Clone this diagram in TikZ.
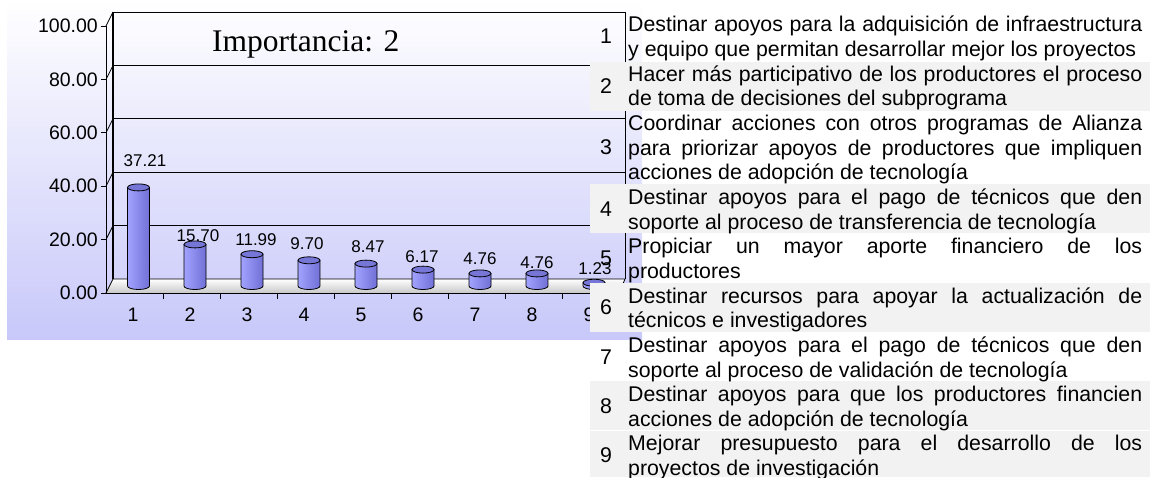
\documentclass[tikz,border=0pt]{standalone}
\usepackage{fontspec}
\setmainfont{Liberation Sans}
\newfontfamily\titlefont{Liberation Serif}
\usepackage{xcolor}
\definecolor{chartbg}{RGB}{200,200,250}
\definecolor{barlight}{RGB}{162,162,255}
\definecolor{bardark}{RGB}{112,112,214}
\definecolor{bartop}{RGB}{118,118,214}
\definecolor{floorgrey}{RGB}{200,200,200}
\definecolor{rowgrey}{RGB}{242,242,242}
\tolerance=10000
\hbadness=10000
\hyphenpenalty=10000
\tikzset{
ylab/.style={anchor=east,inner sep=0pt,font=\fontsize{19.5}{22}\selectfont},
xlab/.style={inner sep=0pt,font=\fontsize{19.5}{22}\selectfont},
vlab/.style={inner sep=0pt,font=\fontsize{17}{20}\selectfont},
num/.style={inner sep=0pt,font=\fontsize{21.3}{24.65}\selectfont},
item/.style={anchor=north west,inner sep=0pt,text width=514pt,align=justify,font=\fontsize{21.3}{24.65}\selectfont},
grid/.style={draw=black,line width=0.8pt},
pics/barcyl/.style={code={
\draw[line width=0.8pt,left color=barlight,right color=bardark] (-11,0) arc[start angle=180,end angle=0,x radius=11,y radius=3.5] -- (11,-#1) -- (-11,-#1) -- cycle;
\draw[line width=0.8pt,fill=bartop] (0,-#1) ellipse[x radius=11,y radius=3.5];
}}
}

\begin{document}
\begin{tikzpicture}[x=1pt,y=-1pt]
\useasboundingbox (0,0) rectangle (1150,477);
\shade[top color=white,bottom color=chartbg] (7,0) rectangle (642,339);
\draw[grid] (113,12) -- (625,12);
\draw[grid] (113,65.4) -- (625,65.4);
\draw[grid] (113,118.8) -- (625,118.8);
\draw[grid] (113,172.2) -- (625,172.2);
\draw[grid] (113,225.6) -- (625,225.6);
\draw[grid,line width=1.4pt] (113,12) -- (113,279);
\draw[grid] (625,12) -- (625,279);
\draw[grid] (106,26) -- (113,12);
\draw[grid] (106,79.4) -- (113,65.4);
\draw[grid] (106,132.8) -- (113,118.8);
\draw[grid] (106,186.2) -- (113,172.2);
\draw[grid] (106,239.6) -- (113,225.6);
\shade[top color=white,bottom color=floorgrey] (106,293) -- (113,279) -- (625,279) -- (619,293) -- cycle;
\draw[grid] (106,293) -- (113,279) -- (625,279) -- (619,293);
\pic at (138.5,286) {barcyl=98.6};
\pic at (195,286) {barcyl=41.6};
\pic at (252,286) {barcyl=31.8};
\pic at (309,286) {barcyl=25.7};
\pic at (366,286) {barcyl=22.4};
\pic at (423,286) {barcyl=16.4};
\pic at (480,286) {barcyl=12.6};
\pic at (537,286) {barcyl=12.6};
\pic at (594,286) {barcyl=3.3};
\draw[grid] (106,26) -- (106,293) -- (619,293);
\draw[grid] (101,26) -- (106,26);
\draw[grid] (101,79.4) -- (106,79.4);
\draw[grid] (101,132.8) -- (106,132.8);
\draw[grid] (101,186.2) -- (106,186.2);
\draw[grid] (101,239.6) -- (106,239.6);
\draw[grid] (101,293) -- (106,293);
\draw[grid] (163,293) -- (163,299);
\draw[grid] (220,293) -- (220,299);
\draw[grid] (277,293) -- (277,299);
\draw[grid] (334,293) -- (334,299);
\draw[grid] (391,293) -- (391,299);
\draw[grid] (448,293) -- (448,299);
\draw[grid] (505,293) -- (505,299);
\draw[grid] (562,293) -- (562,299);
\draw[grid] (619,293) -- (619,299);
\node[ylab] (y100) at (98,26) {100.00};
\node[ylab] (y80) at (98,79.4) {80.00};
\node[ylab] (y60) at (98,132.8) {60.00};
\node[ylab] (y40) at (98,186.2) {40.00};
\node[ylab] (y20) at (98,239.6) {20.00};
\node[ylab] (y0) at (98,293) {0.00};
\node[xlab] (c1) at (133,315) {1};
\node[xlab] (c2) at (190,315) {2};
\node[xlab] (c3) at (247,315) {3};
\node[xlab] (c4) at (304,315) {4};
\node[xlab] (c5) at (361,315) {5};
\node[xlab] (c6) at (418,315) {6};
\node[xlab] (c7) at (475,315) {7};
\node[xlab] (c8) at (532,315) {8};
\node[xlab] (c9) at (589,315) {9};
\node[vlab] (v1) at (145,161) {37.21};
\node[vlab] (v2) at (198,236) {15.70};
\node[vlab] (v3) at (256,240) {11.99};
\node[vlab] (v4) at (307,244) {9.70};
\node[vlab] (v5) at (368,247) {8.47};
\node[vlab] (v6) at (422,257) {6.17};
\node[vlab] (v7) at (480,259) {4.76};
\node[vlab] (v8) at (537,263) {4.76};
\node[vlab] (v9) at (595,269) {1.23};
\node[anchor=west,inner sep=0pt,font=\titlefont\fontsize{31.5}{36}\selectfont] (title) at (212,44) {Importancia: 2};
\fill[rowgrey] (590,61.7) rectangle (1150,111);
\fill[rowgrey] (590,184) rectangle (1150,233.3);
\fill[rowgrey] (590,282.6) rectangle (1150,332);
\fill[rowgrey] (590,381.2) rectangle (1150,430);
\fill[rowgrey] (590,430.8) rectangle (1150,477);
\node[num] (n1) at (606,36.3) {1};
\node[num] (n2) at (606,85.6) {2};
\node[num] (n3) at (606,147.3) {3};
\node[num] (n4) at (606,208.9) {4};
\node[num] (n5) at (606,258.2) {5};
\node[num] (n6) at (606,307.5) {6};
\node[num] (n7) at (606,356.8) {7};
\node[num] (n8) at (606,406.1) {8};
\node[num] (n9) at (606,455.4) {9};
\node[item] (t1) at (628,14.4) {\strut Destinar apoyos para la adquisición de infraestructura\linebreak y equipo que permitan desarrollar mejor los proyectos};
\node[item] (t2) at (628,63.7) {\strut Hacer más participativo de los productores el proceso\linebreak de toma de decisiones del subprograma};
\node[item] (t3) at (628,113) {\strut Coordinar acciones con otros programas de Alianza\linebreak para priorizar apoyos de productores que impliquen\linebreak acciones de adopción de tecnología};
\node[item] (t4) at (628,187) {\strut Destinar apoyos para el pago de técnicos que den\linebreak soporte al proceso de transferencia de tecnología};
\node[item] (t5) at (628,236.3) {\strut Propiciar un mayor aporte financiero de los\linebreak productores};
\node[item] (t6) at (628,285.6) {\strut Destinar recursos para apoyar la actualización de\linebreak técnicos e investigadores};
\node[item] (t7) at (628,334.9) {\strut Destinar apoyos para el pago de técnicos que den\linebreak soporte al proceso de validación de tecnología};
\node[item] (t8) at (628,384.2) {\strut Destinar apoyos para que los productores financien\linebreak acciones de adopción de tecnología};
\node[item] (t9) at (628,433.5) {\strut Mejorar presupuesto para el desarrollo de los\linebreak proyectos de investigación};
\end{tikzpicture}
\end{document}
